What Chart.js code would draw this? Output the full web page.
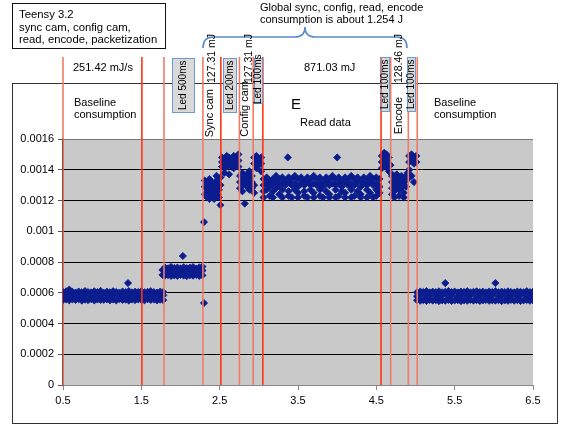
<!DOCTYPE html>
<html><head><meta charset="utf-8">
<script src="https://cdn.jsdelivr.net/npm/chart.js@4.4.1/dist/chart.umd.min.js"></script>
<style>
html,body{margin:0;padding:0;background:#fff;}
#wrap{position:relative;width:578px;height:425px;font-family:"Liberation Sans",Arial,sans-serif;color:#000;overflow:hidden;}
#frame{position:absolute;left:12px;top:83px;width:546px;height:341px;border:1.5px solid #333;box-sizing:border-box;}
#titlebox{position:absolute;left:12px;top:3px;width:154px;height:46px;border:1.5px solid #111;box-sizing:border-box;padding:4px 6px;font-size:11.3px;line-height:12.5px;white-space:nowrap;}
canvas{position:absolute;left:0;top:0;}
.t{position:absolute;white-space:nowrap;font-size:11px;line-height:12px;}
.v{position:absolute;white-space:nowrap;writing-mode:vertical-rl;transform:rotate(180deg);font-size:11px;line-height:12px;width:12px;}
.mj{font-size:10.5px;}
.lt{text-align:center;font-size:10px;}
.led{position:absolute;background:#d9d9d9;border:1.5px solid #6b9ad3;box-sizing:border-box;}
svg{position:absolute;left:0;top:0;}
</style></head>
<body>
<div id="wrap">
  <div id="frame"></div>
  <canvas id="c" width="578" height="425"></canvas>
  <div id="titlebox">Teensy 3.2<br>sync cam, config cam,<br>read, encode, packetization</div>
  <svg width="578" height="60"><path d="M203,48 Q203,37 213,37 L295,37 Q305,37 305,27 Q305,37 315,37 L397,37 Q407,37 407,48" fill="none" stroke="#5b8bc9" stroke-width="1.6"/></svg>
  <div class="t" style="left:260px;top:1px;">Global sync, config, read, encode</div>
  <div class="t" style="left:260px;top:13px;">consumption is about 1.254 J</div>
  <div class="t" style="left:73px;top:61px;">251.42 mJ/s</div>
  <div class="t" style="left:304px;top:61px;">871.03 mJ</div>

  <div class="led" style="left:172px;top:58px;width:23px;height:55px;"></div>
  <div class="v lt" style="left:177px;top:58px;height:55px;">Led 500ms</div>
  <div class="led" style="left:223px;top:58px;width:14px;height:55px;"></div>
  <div class="v lt" style="left:224px;top:58px;height:55px;">Led 200ms</div>
  <div class="led" style="left:254px;top:58px;width:9px;height:46px;"></div>
  <div class="v lt" style="left:252px;top:58px;height:46px;">Led 100ms</div>
  <div class="led" style="left:381px;top:57px;width:9px;height:55px;"></div>
  <div class="v lt" style="left:379px;top:57px;height:55px;">Led 100ms</div>
  <div class="led" style="left:407px;top:57px;width:9px;height:55px;"></div>
  <div class="v lt" style="left:405px;top:57px;height:55px;">Led 100ms</div>

  <div class="v mj" style="left:205px;bottom:342px;">127.31 mJ</div>
  <div class="v mj" style="left:242px;bottom:342px;">127.31 mJ</div>
  <div class="v mj" style="left:392px;bottom:342px;">128.46 mJ</div>
  <div class="v" style="left:203px;bottom:288px;">Sync cam</div>
  <div class="v" style="left:238px;bottom:288px;">Config cam</div>
  <div class="v" style="left:392px;bottom:291px;">Encode</div>

  <div class="t" style="left:74px;top:96px;">Baseline<br>consumption</div>
  <div class="t" style="left:434px;top:96px;">Baseline<br>consumption</div>
  <div class="t" style="left:291px;top:96px;font-size:15px;line-height:16px;">E</div>
  <div class="t" style="left:300px;top:116px;">Read data</div>
</div>
<script>
// ---- tick values / labels ----
const xTickValues = [0.5, 1.5, 2.5, 3.5, 4.5, 5.5, 6.5];
const xTickLabels = ['0.5', '1.5', '2.5', '3.5', '4.5', '5.5', '6.5'];
const yTickValues = [0, 0.0002, 0.0004, 0.0006, 0.0008, 0.001, 0.0012, 0.0014, 0.0016];
const yTickLabels = ['0', '0.0002', '0.0004', '0.0006', '0.0008', '0.001', '0.0012', '0.0014', '0.0016'];

// ---- phase boundaries (time) ----
const phaseBoundaries = [0.5, 1.507, 1.789, 2.286, 2.515, 2.752, 2.928, 3.051, 4.560, 4.683, 4.908, 5.022];

// ---- samples: [time, value, value, ...] ----
const baselineStart = [
[0.50,0.000604,0.000578,0.000553],[0.54,0.000609,0.000583,0.000556],[0.58,0.000621,0.000586,0.000551],
[0.62,0.000606,0.000574,0.000557],[0.66,0.000601,0.000553],[0.70,0.000608,0.000580,0.000558],
[0.74,0.000603,0.000571,0.000549],[0.78,0.000611,0.000584,0.000555],[0.82,0.000605,0.000552],
[0.86,0.000602,0.000577,0.000559],[0.90,0.000609,0.000582,0.000550],[0.94,0.000604,0.000568,0.000556],
[0.98,0.000612,0.000579,0.000553],[1.02,0.000600,0.000554],[1.06,0.000607,0.000585,0.000557],
[1.10,0.000603,0.000573,0.000551],[1.14,0.000610,0.000581,0.000556],[1.18,0.000605,0.000550],
[1.22,0.000601,0.000576,0.000558],[1.26,0.000608,0.000583,0.000553],[1.30,0.000604,0.000570,0.000555],
[1.33,0.000663],[1.34,0.000611,0.000580,0.000549],[1.38,0.000602,0.000556],
[1.42,0.000607,0.000584,0.000552],[1.46,0.000605,0.000572,0.000557],[1.50,0.000609,0.000579,0.000554],
[1.54,0.000603,0.000551],[1.58,0.000606,0.000582,0.000558],[1.62,0.000610,0.000575,0.000553],
[1.66,0.000604,0.000581,0.000556],[1.70,0.000601,0.000550],[1.74,0.000607,0.000578,0.000555],
[1.78,0.000605,0.000583,0.000552]
];
const led500 = [
[1.77,0.000748,0.000716],[1.80,0.000765,0.000739,0.000711],[1.84,0.000759,0.000733,0.000715],
[1.88,0.000768,0.000742,0.000709],[1.92,0.000761,0.000713],[1.96,0.000764,0.000736,0.000710],
[2.00,0.000758,0.000741,0.000716],[2.03,0.000839],[2.04,0.000766,0.000730,0.000712],
[2.08,0.000760,0.000744,0.000708],[2.12,0.000763,0.000714],[2.16,0.000767,0.000737,0.000711],
[2.20,0.000757,0.000740,0.000716],[2.24,0.000765,0.000731,0.000709],[2.28,0.000770,0.000745,0.000713],
[2.30,0.000533,0.00106]
];
const syncCam = [
[2.31,0.00133,0.00129,0.00124],[2.34,0.00131,0.00127,0.00122],[2.37,0.00134,0.00130,0.00125,0.00121],
[2.40,0.00132,0.00128,0.00123],[2.43,0.00130,0.00126,0.00121],[2.46,0.00136,0.00133,0.00129,0.00124],
[2.49,0.00131,0.00127,0.00122],[2.51,0.00135,0.00130,0.00117]
];
const led200 = [
[2.53,0.00148,0.00145,0.00142],[2.56,0.00147,0.00143,0.00138],[2.59,0.00149,0.00146,0.00142],
[2.62,0.00148,0.00144,0.00137],[2.65,0.00146,0.00142],[2.68,0.00149,0.00145,0.00141],
[2.71,0.00147,0.00143],[2.74,0.00150,0.00146,0.00142]
];
const configCam = [
[2.76,0.00136,0.00132,0.00128],[2.79,0.00138,0.00134,0.00130,0.00126],[2.82,0.00135,0.00131,0.00118],
[2.85,0.00137,0.00133,0.00129],[2.88,0.00139,0.00135,0.00131,0.00127],[2.91,0.00136,0.00132,0.00128]
];
const led100a = [
[2.94,0.00148,0.00144,0.00130,0.00125],[2.97,0.00149,0.00145,0.00141],[3.00,0.00147,0.00143],
[3.03,0.00148,0.00144,0.00139]
];
const readData = [
[3.06,0.00134,0.00130,0.00126,0.00122],[3.10,0.00135,0.00131,0.00127],[3.14,0.00133,0.00129,0.00123],
[3.18,0.00134,0.00131,0.00126,0.00122],[3.22,0.00136,0.00132,0.00128],[3.26,0.00134,0.00130,0.00124],
[3.30,0.00135,0.00131,0.00127,0.00122],[3.34,0.00133,0.00130],[3.37,0.00148],
[3.38,0.00135,0.00132,0.00126,0.00123],[3.42,0.00134,0.00130,0.00122],[3.46,0.00136,0.00131,0.00127],
[3.50,0.00134,0.00129,0.00125,0.00122],[3.54,0.00135,0.00131],[3.58,0.00133,0.00130,0.00126,0.00123],
[3.62,0.00135,0.00132,0.00122],[3.66,0.00134,0.00130,0.00127],[3.70,0.00136,0.00131,0.00125,0.00122],
[3.74,0.00134,0.00130],[3.78,0.00135,0.00131,0.00127,0.00123],[3.82,0.00133,0.00129,0.00122],
[3.86,0.00135,0.00132,0.00126],[3.90,0.00134,0.00130,0.00124,0.00122],[3.94,0.00136,0.00131],
[3.98,0.00134,0.00130,0.00127,0.00122],[4.00,0.00148],[4.02,0.00135,0.00131,0.00123],
[4.06,0.00133,0.00129,0.00126],[4.10,0.00135,0.00132,0.00125,0.00122],[4.14,0.00134,0.00130],
[4.18,0.00136,0.00131,0.00127,0.00122],[4.22,0.00134,0.00130,0.00123],[4.26,0.00135,0.00132,0.00126],
[4.30,0.00133,0.00129,0.00124,0.00122],[4.34,0.00135,0.00131],[4.38,0.00134,0.00130,0.00127,0.00122],
[4.42,0.00136,0.00132,0.00125],[4.46,0.00134,0.00130,0.00122],[4.50,0.00135,0.00131,0.00127,0.00123],
[4.54,0.00134,0.00129,0.00125]
];
const led100b = [
[4.57,0.00149,0.00145,0.00141],[4.60,0.00151,0.00147,0.00143],[4.63,0.00150,0.00146,0.00142],
[4.66,0.00148,0.00144,0.00139],[4.68,0.00143,0.00138]
];
const encode = [
[4.70,0.00136,0.00132,0.00128,0.00124],[4.73,0.00134,0.00130,0.00126,0.00122],[4.76,0.00137,0.00133,0.00129],
[4.79,0.00135,0.00131,0.00127,0.00123],[4.82,0.00136,0.00132,0.00128],[4.85,0.00134,0.00130,0.00125,0.00122],
[4.88,0.00136,0.00133,0.00129],[4.90,0.00138,0.00134]
];
const led100c = [
[4.92,0.00149,0.00145,0.00140],[4.95,0.00150,0.00146,0.00136],[4.98,0.00148,0.00144,0.00132],
[5.01,0.00149,0.00145]
];
const baselineEnd = [
[5.02,0.000603,0.000578,0.000551],[5.06,0.000608,0.000583,0.000548],[5.10,0.000605,0.000552],
[5.14,0.000610,0.000576,0.000547],[5.18,0.000602,0.000581,0.000553],[5.22,0.000607,0.000549],
[5.26,0.000604,0.000579,0.000552],[5.30,0.000609,0.000574,0.000546],[5.34,0.000603,0.000584,0.000551],
[5.38,0.000663,0.000606,0.000548],[5.42,0.000611,0.000577,0.000553],[5.46,0.000604,0.000582,0.000547],
[5.50,0.000608,0.000550],[5.54,0.000602,0.000575,0.000552],[5.58,0.000607,0.000580,0.000546],
[5.62,0.000605,0.000551],[5.66,0.000610,0.000578,0.000548],[5.70,0.000603,0.000583,0.000553],
[5.74,0.000606,0.000549],[5.78,0.000609,0.000576,0.000552],[5.82,0.000604,0.000581,0.000547],
[5.86,0.000607,0.000550],[5.90,0.000602,0.000579,0.000553],[5.94,0.000608,0.000574,0.000548],
[5.98,0.000605,0.000584,0.000551],[6.02,0.000663,0.000610,0.000549],[6.06,0.000603,0.000577,0.000552],
[6.10,0.000607,0.000582,0.000546],[6.14,0.000604,0.000551],[6.18,0.000609,0.000575,0.000548],
[6.22,0.000605,0.000580,0.000553],[6.26,0.000602,0.000549],[6.30,0.000608,0.000578,0.000552],
[6.34,0.000606,0.000583,0.000547],[6.38,0.000603,0.000550],[6.42,0.000610,0.000576,0.000553],
[6.46,0.000604,0.000581,0.000548],[6.50,0.000607,0.000579,0.000551]
];

const phases = [baselineStart, led500, syncCam, led200, configCam, led100a, readData, led100b, encode, led100c, baselineEnd];
const points = [];
phases.forEach(ph => ph.forEach(col => {
  for (let i = 1; i < col.length; i++) points.push({x: col[0], y: col[i]});
}));

// ---- styles ----
const RED = '#ff3414', SALMON = '#f27b67';
const boundaryColors = [SALMON, RED, SALMON, SALMON, RED, SALMON, SALMON, RED, RED, SALMON, SALMON, SALMON];
const LINE_TOP_PX = 57;

const plotBg = {
  id: 'plotBg',
  beforeDraw(chart) {
    const a = chart.chartArea, c = chart.ctx;
    c.save(); c.fillStyle = '#c9c9c9'; c.fillRect(a.left, a.top, a.right - a.left, a.bottom - a.top); c.restore();
  }
};
const boundaryLines = {
  id: 'boundaryLines',
  afterDatasetsDraw(chart) {
    const a = chart.chartArea, c = chart.ctx, xs = chart.scales.x;
    c.save(); c.lineWidth = 1.6;
    phaseBoundaries.forEach((b, i) => {
      const px = xs.getPixelForValue(b);
      const bottom = (b <= xs.min) ? a.top : a.bottom;
      c.strokeStyle = boundaryColors[i];
      c.beginPath(); c.moveTo(px, bottom); c.lineTo(px, LINE_TOP_PX); c.stroke();
    });
    c.restore();
  }
};

Chart.defaults.font.family = '"Liberation Sans", Arial, sans-serif';
Chart.defaults.font.size = 11;
Chart.defaults.color = '#000';

new Chart(document.getElementById('c'), {
  type: 'scatter',
  data: { datasets: [{
    data: points, pointStyle: 'rectRot', pointRadius: 3.6, pointHoverRadius: 3.6,
    backgroundColor: '#0b1d8e', borderColor: '#0b1d8e', borderWidth: 0.8
  }]},
  options: {
    responsive: false, animation: false, devicePixelRatio: 1,
    layout: { padding: { top: 139, right: 45, left: 0, bottom: 0 } },
    plugins: { legend: { display: false }, tooltip: { enabled: false } },
    scales: {
      x: {
        type: 'linear', min: 0.5, max: 6.5,
        afterBuildTicks: s => { s.ticks = xTickValues.map(v => ({ value: v })); },
        afterFit: s => { s.height = 40; },
        ticks: { callback: (v, i) => xTickLabels[i], padding: 4, maxRotation: 0, autoSkip: false },
        grid: { drawOnChartArea: false, drawTicks: true, tickLength: 5, tickColor: '#888' },
        border: { color: '#888', width: 1 }
      },
      y: {
        min: 0, max: 0.0016,
        afterBuildTicks: s => { s.ticks = yTickValues.map(v => ({ value: v })); },
        afterFit: s => { s.width = 63; },
        ticks: { callback: (v, i) => yTickLabels[i], padding: 4, autoSkip: false },
        grid: {
          color: ctx => (ctx.tick && ctx.tick.value >= 0.0016) ? '#777' : '#000',
          lineWidth: 1, tickLength: 5, tickColor: '#555'
        },
        border: { color: '#b0402c', width: 1.5 }
      }
    }
  },
  plugins: [plotBg, boundaryLines]
});
</script>
</body></html>
